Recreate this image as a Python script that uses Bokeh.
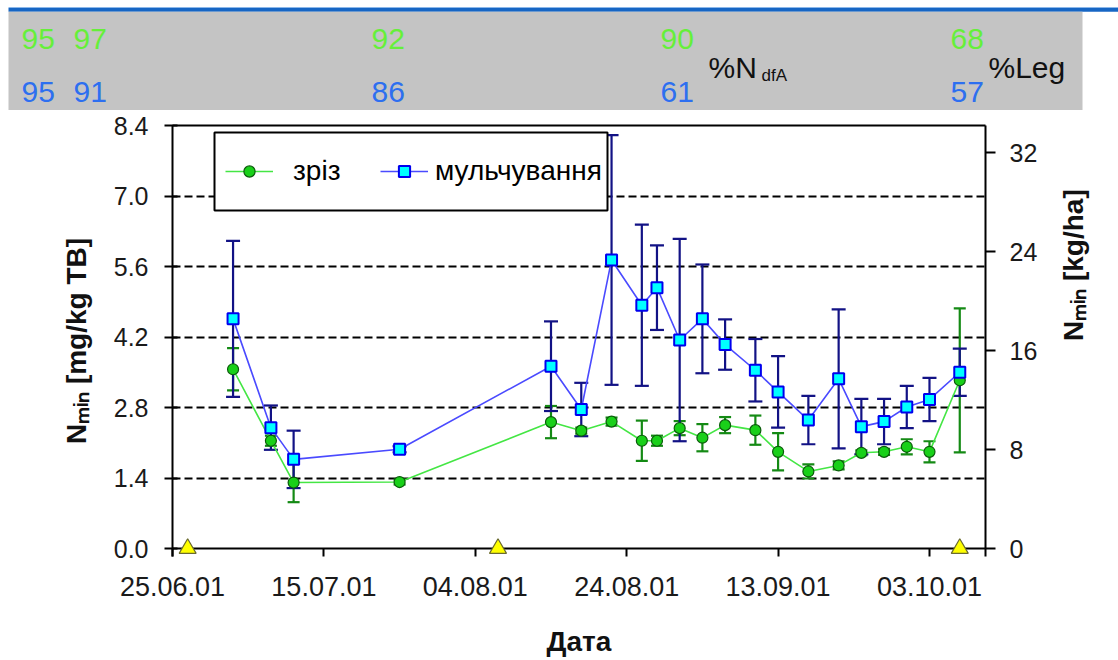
import math
import pandas as pd
from bokeh.plotting import figure
from bokeh.layouts import column
from bokeh.models import (ColumnDataSource, Range1d, LinearAxis, FixedTicker,
                          DatetimeTickFormatter, PrintfTickFormatter, Whisker, TeeHead,
                          Span, Label, BoxAnnotation, Legend, LegendItem)
from bokeh.core.properties import value
from bokeh.embed import file_html
from bokeh.resources import INLINE

# ---- data -------------------------------------------------------------
dates = ["03.07.01", "08.07.01", "11.07.01", "25.07.01", "14.08.01", "18.08.01",
         "22.08.01", "26.08.01", "28.08.01", "31.08.01", "03.09.01", "06.09.01",
         "10.09.01", "13.09.01", "17.09.01", "21.09.01", "24.09.01", "27.09.01",
         "30.09.01", "03.10.01", "07.10.01"]
cut_mean = [3.56, 2.14, 1.31, 1.32, 2.51, 2.34, 2.52, 2.14, 2.14, 2.39, 2.20,
            2.45, 2.35, 1.92, 1.53, 1.65, 1.90, 1.92, 2.02, 1.92, 3.34]
cut_err = [0.42, 0.10, 0.39, 0.05, 0.32, 0.06, 0.08, 0.40, 0.10, 0.14, 0.27,
           0.16, 0.29, 0.37, 0.14, 0.08, 0.05, 0.06, 0.15, 0.21, 1.43]
mulch_mean = [4.56, 2.40, 1.77, 1.97, 3.62, 2.76, 5.73, 4.83, 5.18, 4.14, 4.56,
              4.05, 3.54, 3.11, 2.55, 3.37, 2.42, 2.52, 2.81, 2.96, 3.50]
mulch_err = [1.55, 0.44, 0.57, 0.06, 0.89, 0.53, 2.48, 1.60, 0.84, 2.01, 1.08,
             0.50, 0.62, 0.71, 0.48, 1.38, 0.55, 0.45, 0.42, 0.43, 0.47]
harvest_dates = ["27.06.01", "07.08.01", "07.10.01"]
tick_dates = ["25.06.01", "15.07.01", "04.08.01", "24.08.01", "13.09.01", "03.10.01"]
y_ticks = [0.0, 1.4, 2.8, 4.2, 5.6, 7.0, 8.4]
kg_ticks = [0, 8, 16, 24, 32]
ndfa_cut = [95, 97, 92, 90, 68]
ndfa_mulch = [95, 91, 86, 61, 57]

FONT = "Liberation Sans"
GREEN_LINE, GREEN_FILL, GREEN_EDGE, GREEN_BAR = "#44e644", "#19d019", "#0b5a0b", "#148a14"
BLUE_LINE, BLUE_FILL, BLUE_EDGE, BLUE_BAR = "#4a4aff", "#00ffff", "#0000ee", "#121285"


def to_dt(strings):
    return pd.to_datetime(strings, format="%d.%m.%y")


def to_ms(strings):
    return [int(v) for v in (to_dt(strings) - pd.Timestamp("1970-01-01")) // pd.Timedelta("1ms")]


x = to_dt(dates)
cut_src = ColumnDataSource(dict(
    x=x, y=cut_mean,
    upper=[m + e for m, e in zip(cut_mean, cut_err)],
    lower=[m - e for m, e in zip(cut_mean, cut_err)]))
mulch_src = ColumnDataSource(dict(
    x=x, y=mulch_mean,
    upper=[m + e for m, e in zip(mulch_mean, mulch_err)],
    lower=[m - e for m, e in zip(mulch_mean, mulch_err)]))
harvest_src = ColumnDataSource(dict(x=to_dt(harvest_dates), y=[0.0] * len(harvest_dates)))

# ---- layout geometry (page pixels) -------------------------------------
BAND_H = 110
FRAME_L, FRAME_R = 172, 985
FRAME_T, FRAME_B = 125, 556          # frame bottom sits 8 px below the zero line
Y_TOP = 8.4
PX_PER_UNIT = 423 / Y_TOP
Y_BOTTOM = -(FRAME_B - 548) / PX_PER_UNIT
KG_FACTOR = 34.2 / Y_TOP
DAYS_SPAN = 107.4

t0 = to_dt(tick_dates[:1])[0]
x_range = Range1d(t0.to_pydatetime(), (t0 + pd.Timedelta(days=DAYS_SPAN)).to_pydatetime())

p = figure(width=1118, height=660 - BAND_H, x_axis_type="datetime",
           x_range=x_range, y_range=Range1d(Y_BOTTOM, Y_TOP),
           output_backend="svg", toolbar_location=None, frame_align=False,
           min_border_left=FRAME_L, min_border_right=1118 - FRAME_R,
           min_border_top=FRAME_T - BAND_H, min_border_bottom=660 - FRAME_B,
           outline_line_color=None, background_fill_color="white")


def sx(px):
    return px - FRAME_L


def sy(py):
    return FRAME_B - py


# axes
left = p.left[0]
left.ticker = FixedTicker(ticks=y_ticks)
left.formatter = PrintfTickFormatter(format="%.1f")
bottom = p.below[0]
bottom.ticker = FixedTicker(ticks=to_ms(tick_dates))
bottom.formatter = DatetimeTickFormatter(days="%d.%m.%y", months="%d.%m.%y", years="%d.%m.%y")
bottom.major_tick_in, bottom.major_tick_out = 8, 0
bottom.major_label_standoff = 20
bottom.major_label_text_font_size = "27px"

p.extra_y_ranges = {"kg": Range1d(Y_BOTTOM * KG_FACTOR, Y_TOP * KG_FACTOR)}
right = LinearAxis(y_range_name="kg", ticker=FixedTicker(ticks=kg_ticks))
p.add_layout(right, "right")
right.major_tick_in, right.major_tick_out = 0, 10
right.major_label_standoff = 14

top_rule = LinearAxis(ticker=FixedTicker(ticks=[]), major_label_text_font_size="0px",
                      major_tick_in=0, major_tick_out=0, minor_tick_in=0, minor_tick_out=0)
p.add_layout(top_rule, "above")

left.major_tick_in, left.major_tick_out = 5, 8
left.major_label_standoff = 16
for ax in (left, right):
    ax.major_label_text_font_size = "25px"
for ax in (left, right, bottom, top_rule):
    ax.minor_tick_line_color = None
    ax.axis_line_width = 2
    ax.axis_line_color = "black"
    ax.major_tick_line_width = 2
    ax.major_tick_line_color = "black"
    ax.major_label_text_font = FONT
    ax.major_label_text_color = "#1a1a1a"
bottom.axis_line_color = None

# axis titles
left.axis_label = "Nₘᵢₙ [mg/kg TB]"
right.axis_label = "Nₘᵢₙ [kg/ha]"
bottom.axis_label = "Дата"
right.axis_label_orientation = math.pi / 2
left.axis_label_standoff = 19
right.axis_label_standoff = 33
bottom.axis_label_standoff = 27
for ax in (left, right, bottom):
    ax.axis_label_text_font = FONT
    ax.axis_label_text_font_size = "28px"
    ax.axis_label_text_font_style = "bold"
    ax.axis_label_text_color = "#111111"

p.xgrid.visible = False
p.ygrid.ticker = FixedTicker(ticks=y_ticks[1:-1])
p.ygrid.grid_line_color = "black"
p.ygrid.grid_line_width = 2
p.ygrid.grid_line_dash = "8 4"

# zero line of the date axis
p.add_layout(Span(location=0, dimension="width", line_color="black", line_width=2,
                  level="underlay"))

# error bars
for src, col, head in ((cut_src, GREEN_BAR, 12), (mulch_src, BLUE_BAR, 14)):
    p.add_layout(Whisker(base="x", upper="upper", lower="lower", source=src,
                         dimension="height", line_color=col, line_width=2.2,
                         level="underlay",
                         upper_head=TeeHead(size=head, line_color=col, line_width=2.2),
                         lower_head=TeeHead(size=head, line_color=col, line_width=2.2)))

g_line = p.line("x", "y", source=cut_src, line_color=GREEN_LINE, line_width=1.6)
b_line = p.line("x", "y", source=mulch_src, line_color=BLUE_LINE, line_width=1.6)
g_pts = p.scatter("x", "y", source=cut_src, marker="circle", size=11,
                  fill_color=GREEN_FILL, line_color=GREEN_EDGE, line_width=1.2)
b_pts = p.scatter("x", "y", source=mulch_src, marker="square", size=11,
                  fill_color=BLUE_FILL, line_color=BLUE_EDGE, line_width=2)
p.scatter("x", "y", source=harvest_src, marker="triangle", size=17,
          fill_color="#ffff00", line_color="#6b6b30", line_width=1.2)

# legend frame and entries
p.add_layout(BoxAnnotation(left=sx(214), right=sx(607), top=sy(132), bottom=sy(210),
                           left_units="screen", right_units="screen",
                           top_units="screen", bottom_units="screen",
                           fill_color="white", fill_alpha=1.0,
                           line_color="black", line_width=2, line_alpha=1.0))
LEG_H = 28
for item, start, standoff in ((LegendItem(label="зріз", renderers=[g_line, g_pts]), 225, 20),
                              (LegendItem(label="мульчування", renderers=[b_line, b_pts]), 380, 7)):
    p.add_layout(Legend(items=[item], location=(sx(start), sy(173 + LEG_H / 2)),
                        padding=0, margin=0, glyph_width=48, glyph_height=LEG_H,
                        label_height=LEG_H, label_standoff=standoff,
                        label_text_font=FONT, label_text_font_size="28px",
                        label_text_color="black", border_line_color=None,
                        background_fill_alpha=0.0), "center")

# ---- %NdfA / %Leg band --------------------------------------------------
band = figure(width=1118, height=BAND_H, x_range=Range1d(0, 1118),
              y_range=Range1d(0, BAND_H), x_axis_type=None, y_axis_type=None,
              min_border=0, outline_line_color=None, toolbar_location=None,
              output_backend="svg", frame_align=False)

# the rendered alphabetic baseline lands ~10 px below the anchor; lift the anchors
TEXT_LIFT = 10


def by(py):
    """page y (downwards) -> band data y (upwards)"""
    return BAND_H - py


def ty(py):
    return by(py - TEXT_LIFT)


band.quad(left=[8], right=[1118], top=[by(6.5)], bottom=[by(7.6)], fill_color="#8cb8ea", line_color=None)
band.quad(left=[8], right=[1118], top=[by(7.6)], bottom=[by(11.2)], fill_color="#1766c4", line_color=None)
band.quad(left=[8], right=[1082], top=[by(11.2)], bottom=[by(BAND_H)], fill_color="#c4c4c4", line_color=None)

band_x = [21, 73, 371, 660, 950]
band.text(x=band_x, y=[ty(48.3)] * len(band_x), text=[str(v) for v in ndfa_cut],
          text_color="#66ef3a", text_font=value(FONT), text_font_size="30px",
          text_align="left", text_baseline="alphabetic")
band.text(x=band_x, y=[ty(101.7)] * len(band_x), text=[str(v) for v in ndfa_mulch],
          text_color="#2d6ff0", text_font=value(FONT), text_font_size="30px",
          text_align="left", text_baseline="alphabetic")
for text, bx, py, size in (("%N", 708, 76.7, "30px"), ("dfA", 761, 84.5, "17px"),
                           ("%Leg", 988, 76.5, "30px")):
    band.add_layout(Label(x=bx, y=ty(py), text=text, text_font=FONT, text_font_size=size,
                          text_align="left", text_baseline="alphabetic", text_color="#111111"))

layout = column(band, p, spacing=0)
open("out.html", "w").write(file_html(layout, INLINE))
